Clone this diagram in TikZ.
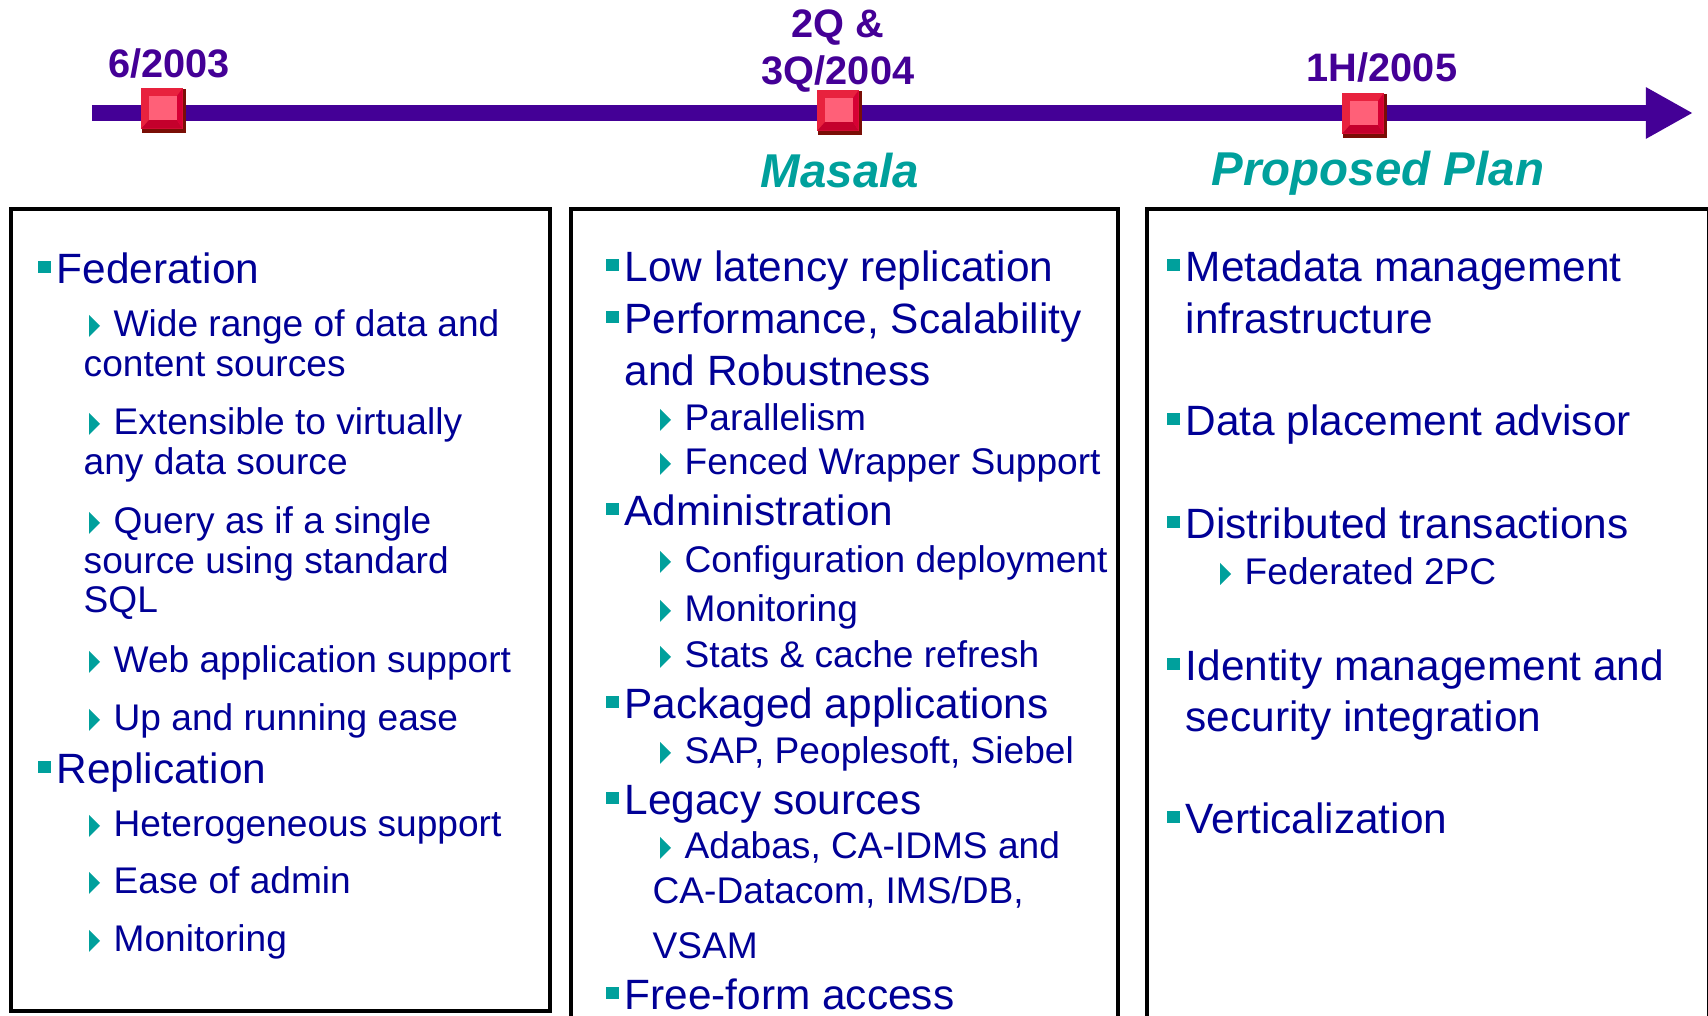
\documentclass[tikz,border=0pt]{standalone}
\usepackage{fontspec}
\setmainfont{Liberation Sans}
\usepackage{tikz}
\usetikzlibrary{arrows.meta,calc}
\definecolor{tlpurple}{RGB}{68,0,150}
\definecolor{itemblue}{RGB}{0,0,150}
\definecolor{bulletteal}{RGB}{0,160,156}
\definecolor{mkdark}{RGB}{122,14,6}
\definecolor{mkred}{RGB}{232,34,62}
\definecolor{mkcrimson}{RGB}{196,0,44}
\definecolor{mkright}{RGB}{214,0,52}
\definecolor{mkpink}{RGB}{255,96,120}
\tikzset{
    timeline/.style={draw=tlpurple, line width=0.16cm, -{Triangle[length=0.47cm,width=0.48cm]}},
    marker/.style={rectangle, fill=mkdark, minimum size=0.44cm, inner sep=0},
    datelabel/.style={font=\fontsize{11.3}{13.4}\selectfont\bfseries, text=tlpurple, inner sep=0, anchor=base},
    phase/.style={font=\fontsize{13.5}{15}\selectfont\bfseries\itshape, text=bulletteal, inner sep=0, anchor=base},
    panel/.style={draw=black, line width=1.4pt},
    mainitem/.style={font=\fontsize{12.05}{14}\selectfont, text=itemblue, inner sep=0, anchor=base west},
    subitem/.style={font=\fontsize{10.55}{12.5}\selectfont, text=itemblue, inner sep=0, anchor=base west}
}
\begin{document}
\begin{tikzpicture}[x=0.01cm, y=0.01cm]
    \useasboundingbox (0,0) rectangle (1708,-1016);
    \clip (0,0) rectangle (1708,-1016);

    % Time line
    \coordinate (tl-start) at (92,-113);
    \coordinate (tl-end) at (1693,-113);
    \draw [timeline] (tl-start) -- (tl-end);

    % Milestone markers
    \foreach \cx/\cy [count=\i] in {164/-111, 840/-113, 1365/-116} {
        \node [marker] (mk\i) at (\cx,\cy) {};
        \fill [mkred] (mk\i.north west) rectangle ($(mk\i.south east)+(-4,5)$);
        \fill [mkcrimson] ($(mk\i.south west)+(0,5)$) -- ($(mk\i.south east)+(-4,5)$) -- ($(mk\i.south east)+(-10,14)$) -- ($(mk\i.south west)+(8,14)$) -- cycle;
        \fill [mkright] ($(mk\i.north east)+(-4,0)$) -- ($(mk\i.south east)+(-4,5)$) -- ($(mk\i.south east)+(-10,14)$) -- ($(mk\i.north east)+(-10,-8)$) -- cycle;
        \fill [mkpink] ($(mk\i.north west)+(8,-8)$) rectangle ($(mk\i.south east)+(-10,14)$);
    }

    % Dates
    \node [datelabel] (d1) at (169,-78) {6/2003};
    \node [datelabel] (d2a) at (838,-38) {2Q \&};
    \node [datelabel] (d2b) at (838,-85) {3Q/2004};
    \node [datelabel] (d3) at (1382,-82) {1H/2005};

    % Phase names
    \node [phase] (ph2) at (840,-188) {Masala};
    \node [phase] (ph3) at (1378,-186) {Proposed Plan};

    % Panels
    \draw [panel] (11,-209) rectangle (550,-1011);
    \draw [panel] (571,-209) rectangle (1118,-1040);
    \draw [panel] (1147,-209) rectangle (1709,-1040);

    % Main items
    \foreach \x/\y/\txt [count=\i] in {56/-284/Federation, 56/-784/Replication,
        624/-282/Low latency replication, 624/-334/{Performance, Scalability},
        624/-526/Administration, 624/-719/Packaged applications,
        624/-815/Legacy sources, 624/-1010/Free-form access,
        1185/-282/Metadata management, 1185/-436/Data placement advisor,
        1185/-539/Distributed transactions, 1185/-681/Identity management and,
        1185/-834/Verticalization} {
        \node [mainitem] (main\i) at (\x,\y) {\txt};
        \fill [bulletteal] ($(main\i.base west)+(-18,10.5)$) rectangle +(12.5,12.5);
    }
    \foreach \x/\y/\txt [count=\i] in {624/-386/and Robustness,
        1185/-334/infrastructure, 1185/-732/security integration} {
        \node [mainitem] (mainc\i) at (\x,\y) {\txt};
    }

    % Sub items
    \foreach \x/\y/\txt [count=\i] in {113/-337/Wide range of data and,
        113/-435/Extensible to virtually, 113/-534/Query as if a single,
        113/-673/Web application support, 113/-731/Up and running ease,
        113/-837/Heterogeneous support, 113/-894/Ease of admin,
        113/-952/Monitoring,
        684/-431/Parallelism, 684/-475/Fenced Wrapper Support,
        684/-573/Configuration deployment, 684/-622/Monitoring,
        684/-668/{Stats \& cache refresh}, 684/-764/{SAP, Peoplesoft, Siebel},
        684/-859/{Adabas, CA-IDMS and},
        1244/-585/Federated 2PC} {
        \node [subitem] (sub\i) at (\x,\y) {\txt};
        \fill [bulletteal] ($(sub\i.base west)+(-24,0)$) -- ($(sub\i.base west)+(-24,22)$) -- ($(sub\i.base west)+(-13,11)$) -- cycle;
    }
    \foreach \x/\y/\txt [count=\i] in {83/-377/content sources,
        83/-475/any data source, 83/-574/source using standard, 83/-613/SQL,
        652/-904/{CA-Datacom, IMS/DB,}, 652/-959/VSAM} {
        \node [subitem] (subc\i) at (\x,\y) {\txt};
    }
\end{tikzpicture}
\end{document}
